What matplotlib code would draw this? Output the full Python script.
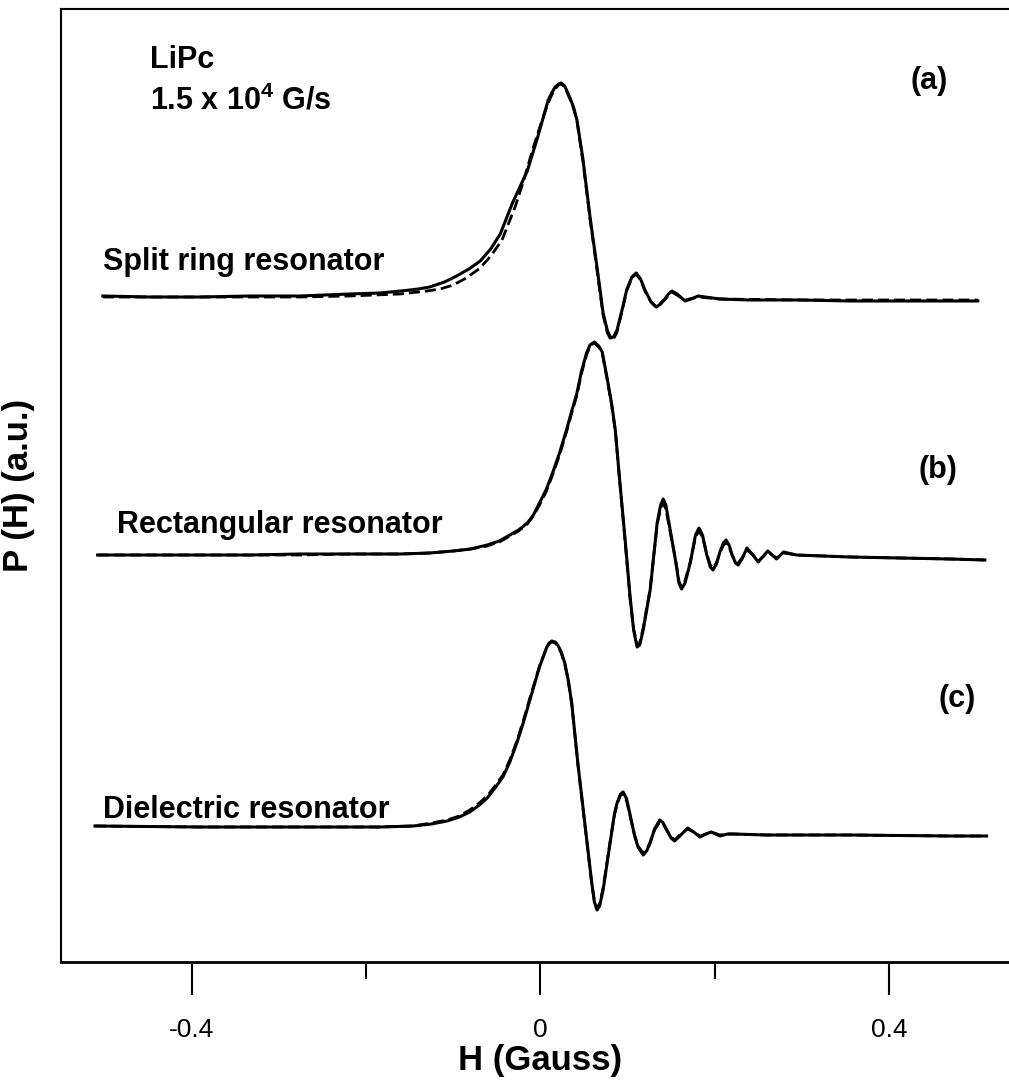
import numpy as np
import matplotlib.pyplot as plt

# ------------------------------------------
# DATA
# H in Gauss, P(H) in a.u. relative to each trace baseline
# ------------------------------------------

# (a) split ring resonator
h_a_exp = [-0.502, -0.448, -0.391, -0.333, -0.276, -0.219, -0.184, -0.160, -0.140, -0.127,
           -0.110, -0.096, -0.082, -0.069, -0.057, -0.046, -0.032, -0.015, -0.003, 0.009,
           0.013, 0.017, 0.021, 0.024, 0.028, 0.034, 0.038, 0.042, 0.049, 0.057,
           0.065, 0.072, 0.077, 0.081, 0.084, 0.088, 0.094, 0.099, 0.105, 0.110,
           0.115, 0.120, 0.127, 0.133, 0.138, 0.142, 0.147, 0.151, 0.157, 0.166,
           0.173, 0.181, 0.206, 0.240, 0.298, 0.355, 0.413, 0.470, 0.502]
p_a_exp = [0.01, 0.00, 0.00, 0.01, 0.01, 0.03, 0.04, 0.06, 0.08, 0.10,
           0.15, 0.21, 0.28, 0.36, 0.48, 0.63, 0.94, 1.26, 1.60, 1.97,
           2.04, 2.10, 2.13, 2.14, 2.11, 1.99, 1.90, 1.77, 1.37, 0.80,
           0.30, -0.16, -0.34, -0.41, -0.40, -0.33, -0.12, 0.07, 0.20, 0.24,
           0.18, 0.07, -0.05, -0.10, -0.07, -0.03, 0.03, 0.06, 0.03, -0.04,
           -0.02, 0.01, -0.02, -0.03, -0.03, -0.04, -0.04, -0.04, -0.04]

h_a_sim = [-0.502, -0.391, -0.276, -0.219, -0.161, -0.130, -0.115, -0.100, -0.085, -0.069,
           -0.056, -0.044, -0.029, -0.020, -0.009, 0.002, 0.009, 0.013, 0.017, 0.021,
           0.024, 0.028, 0.034, 0.038, 0.042, 0.049, 0.057, 0.065, 0.072, 0.077,
           0.081, 0.084, 0.088, 0.094, 0.099, 0.105, 0.110, 0.115, 0.120, 0.127,
           0.133, 0.142, 0.151, 0.166, 0.181, 0.206, 0.298, 0.413, 0.502]
p_a_sim = [0.00, 0.00, 0.00, 0.01, 0.03, 0.06, 0.08, 0.12, 0.19, 0.29,
           0.42, 0.57, 0.90, 1.14, 1.47, 1.77, 1.94, 2.02, 2.08, 2.12,
           2.13, 2.10, 1.98, 1.89, 1.76, 1.35, 0.78, 0.27, -0.18, -0.36,
           -0.43, -0.42, -0.35, -0.13, 0.06, 0.19, 0.23, 0.17, 0.06, -0.05,
           -0.10, -0.03, 0.05, -0.03, 0.00, -0.02, -0.03, -0.03, -0.03]

# (b) rectangular resonator
h_b = [-0.508, -0.448, -0.391, -0.333, -0.276, -0.219, -0.161, -0.127, -0.100, -0.080,
       -0.061, -0.047, -0.035, -0.025, -0.015, -0.008, -0.001, 0.007, 0.014, 0.022,
       0.030, 0.036, 0.042, 0.047, 0.053, 0.057, 0.062, 0.067, 0.071, 0.077,
       0.082, 0.086, 0.091, 0.097, 0.103, 0.107, 0.111, 0.114, 0.118, 0.126,
       0.134, 0.138, 0.141, 0.144, 0.149, 0.155, 0.159, 0.162, 0.166, 0.172,
       0.178, 0.182, 0.186, 0.191, 0.195, 0.198, 0.202, 0.206, 0.210, 0.213,
       0.217, 0.220, 0.224, 0.227, 0.232, 0.237, 0.243, 0.250, 0.255, 0.261,
       0.266, 0.271, 0.279, 0.294, 0.355, 0.413, 0.470, 0.510]
p_b_exp = [0.00, 0.00, 0.00, 0.00, 0.01, 0.01, 0.01, 0.02, 0.04, 0.06,
           0.10, 0.14, 0.20, 0.25, 0.32, 0.40, 0.52, 0.66, 0.82, 1.02,
           1.25, 1.44, 1.62, 1.83, 2.02, 2.10, 2.13, 2.09, 2.03, 1.75,
           1.50, 1.25, 0.75, 0.18, -0.42, -0.75, -0.92, -0.90, -0.75, -0.35,
           0.32, 0.50, 0.56, 0.50, 0.25, -0.05, -0.28, -0.34, -0.28, -0.08,
           0.20, 0.27, 0.20, 0.00, -0.12, -0.15, -0.09, 0.03, 0.12, 0.15,
           0.09, 0.00, -0.08, -0.10, -0.03, 0.07, 0.01, -0.07, -0.02, 0.04,
           0.00, -0.04, 0.03, 0.00, -0.02, -0.03, -0.04, -0.05]
p_b_sim = [0.00, 0.00, 0.00, 0.00, 0.00, 0.01, 0.01, 0.02, 0.04, 0.06,
           0.09, 0.13, 0.19, 0.24, 0.31, 0.39, 0.50, 0.64, 0.80, 1.00,
           1.23, 1.42, 1.60, 1.81, 2.00, 2.09, 2.12, 2.08, 2.02, 1.74,
           1.49, 1.24, 0.74, 0.16, -0.44, -0.74, -0.90, -0.88, -0.73, -0.34,
           0.30, 0.47, 0.52, 0.46, 0.23, -0.04, -0.26, -0.32, -0.26, -0.07,
           0.18, 0.24, 0.18, 0.01, -0.10, -0.13, -0.08, 0.02, 0.10, 0.12,
           0.07, 0.00, -0.06, -0.08, -0.02, 0.05, 0.01, -0.06, -0.02, 0.03,
           0.00, -0.03, 0.02, 0.00, -0.02, -0.03, -0.04, -0.05]

# (c) dielectric resonator
h_c = [-0.511, -0.391, -0.276, -0.184, -0.146, -0.125, -0.107, -0.093, -0.081, -0.070,
       -0.061, -0.052, -0.043, -0.035, -0.027, -0.020, -0.012, -0.006, -0.001, 0.004,
       0.007, 0.010, 0.013, 0.017, 0.020, 0.024, 0.028, 0.032, 0.036, 0.043,
       0.051, 0.059, 0.062, 0.065, 0.068, 0.072, 0.080, 0.085, 0.088, 0.092,
       0.095, 0.099, 0.103, 0.108, 0.112, 0.118, 0.122, 0.126, 0.131, 0.137,
       0.141, 0.145, 0.150, 0.154, 0.160, 0.169, 0.176, 0.183, 0.190, 0.196,
       0.206, 0.215, 0.221, 0.260, 0.355, 0.470, 0.512]
p_c_exp = [0.06, 0.05, 0.05, 0.05, 0.06, 0.08, 0.11, 0.15, 0.20, 0.27,
           0.34, 0.44, 0.55, 0.70, 0.89, 1.08, 1.32, 1.50, 1.65, 1.77,
           1.84, 1.89, 1.91, 1.90, 1.87, 1.80, 1.69, 1.52, 1.29, 0.69,
           0.09, -0.51, -0.70, -0.78, -0.74, -0.58, -0.11, 0.18, 0.29, 0.38,
           0.40, 0.33, 0.17, -0.03, -0.15, -0.23, -0.19, -0.11, 0.03, 0.12,
           0.09, 0.02, -0.06, -0.09, -0.04, 0.04, 0.00, -0.05, -0.02, 0.00,
           -0.04, -0.02, -0.02, -0.03, -0.03, -0.04, -0.04]
p_c_sim = [0.06, 0.05, 0.05, 0.05, 0.06, 0.09, 0.12, 0.16, 0.22, 0.29,
           0.36, 0.46, 0.57, 0.72, 0.91, 1.10, 1.34, 1.51, 1.66, 1.77,
           1.84, 1.88, 1.90, 1.89, 1.86, 1.79, 1.68, 1.51, 1.28, 0.68,
           0.08, -0.52, -0.69, -0.76, -0.72, -0.56, -0.10, 0.17, 0.28, 0.37,
           0.38, 0.31, 0.16, -0.03, -0.14, -0.21, -0.18, -0.10, 0.02, 0.10,
           0.08, 0.02, -0.05, -0.08, -0.03, 0.03, 0.00, -0.04, -0.02, 0.00,
           -0.03, -0.02, -0.02, -0.03, -0.03, -0.04, -0.04]

# vertical offsets of the three traces
offsets = [6.65, 4.07, 1.30]
trace_names = ["Split ring resonator", "Rectangular resonator", "Dielectric resonator"]
panel_tags = ["(a)", "(b)", "(c)"]

# ------------------------------------------
# FIGURE
# ------------------------------------------

plt.rcParams['font.family'] = ['Liberation Sans', 'DejaVu Sans']
plt.rcParams['mathtext.fontset'] = 'custom'
plt.rcParams['mathtext.rm'] = 'Liberation Sans'
plt.rcParams['mathtext.bf'] = 'Liberation Sans:bold'

W, H = 1009, 1083
fig = plt.figure(figsize=(W / 100, H / 100), dpi=100)
ax = fig.add_axes([61 / W, 1 - 962 / H, (1019.7 - 61) / W, (962 - 9) / H])

exp_sets = [(h_a_exp, p_a_exp), (h_b, p_b_exp), (h_c, p_c_exp)]
sim_sets = [(h_a_sim, p_a_sim), (h_b, p_b_sim), (h_c, p_c_sim)]

for (hx, py), (hs, ps), off in zip(exp_sets, sim_sets, offsets):
    ax.plot(hs, np.array(ps) + off, color='black', lw=2, dashes=(4, 1.8))
    ax.plot(hx, np.array(py) + off, color='black', lw=2.2, solid_joinstyle='round')

ax.set_xlim(-0.55, 0.55)
ax.set_ylim(0, 9.53)

ax.set_xticks([-0.4, 0, 0.4])
ax.set_xticklabels(['-0.4', '0', '0.4'])
ax.set_xticks([-0.2, 0.2], minor=True)
ax.tick_params(axis='x', which='major', direction='out', length=24, width=1.5,
               pad=16, labelsize=19)
ax.tick_params(axis='x', which='minor', direction='out', length=12, width=1.5)
ax.set_yticks([])

ax.spines['right'].set_visible(False)
for s in ['left', 'top']:
    ax.spines[s].set_linewidth(1.5)
ax.spines['bottom'].set_linewidth(2)

ax.set_xlabel("H (Gauss)", fontsize=25, fontweight='bold', labelpad=2)
ax.set_ylabel("P (H) (a.u.)", fontsize=25, fontweight='bold')
ax.yaxis.set_label_coords(-0.027, 0.5)

# ------------------------------------------
# ANNOTATIONS
# ------------------------------------------

fig.text(150 / W, 1 - 68 / H, "LiPc", fontsize=22, fontweight='bold')
fig.text(150 / W, 1 - 110 / H, r"1.5 x 10$^{\mathbf{4}}$ G/s", fontsize=22, fontweight='bold')

name_pos = [(103, 270), (117, 533), (103, 818)]
for name, (px, py) in zip(trace_names, name_pos):
    fig.text(px / W, 1 - py / H, name, fontsize=22, fontweight='bold')

tag_pos = [(910, 89), (918, 478), (938, 707)]
for tag, (px, py) in zip(panel_tags, tag_pos):
    fig.text(px / W, 1 - py / H, tag, fontsize=22, fontweight='bold')

fig.savefig("out.png", dpi=100)
